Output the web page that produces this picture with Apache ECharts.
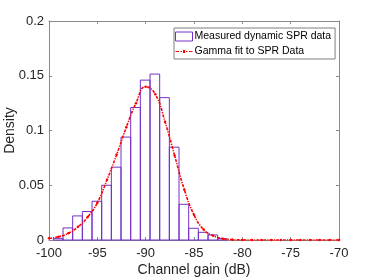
<!DOCTYPE html>
<html>
<head>
<meta charset="utf-8">
<script src="https://cdn.jsdelivr.net/npm/echarts@6/dist/echarts.min.js"></script>
<style>html,body{margin:0;padding:0;background:#fff}#c{width:374px;height:280px}</style>
</head>
<body>
<div id="c"></div>
<script>
// Histogram bins (left edges, width 1 dB) and density heights
var binLeft = [-99.55,-98.55,-97.55,-96.55,-95.55,-94.55,-93.55,-92.55,-91.55,-90.55,-89.55,-88.55,-87.55,-86.55,-85.55,-84.55,-83.55,-82.55];
var binWidth = 1;
var binDensity = [0.0015,0.011,0.022,0.026,0.0354,0.050,0.0665,0.094,0.121,0.146,0.1515,0.130,0.0848,0.0326,0.0107,0.007,0.0046,0.0012];
// Gamma fit curve
var fitX = [-100,-99,-98,-97,-96,-95,-94,-93,-92,-91,-90,-89,-88,-87,-86,-85,-84,-83,-82,-81,-80,-79,-78,-77,-76,-75,-74,-73,-72,-71,-70];
var fitY = [0.0015,0.003,0.0062,0.012,0.021,0.034,0.055,0.078,0.103,0.125,0.140,0.133,0.108,0.077,0.046,0.023,0.0095,0.0038,0.0012,0.0003,0.0001,0,0,0,0,0,0,0,0,0,0];
var xTicks = ['-100','-95','-90','-85','-80','-75','-70'];

var bars = binLeft.map(function(l,i){return [l, l+binWidth, binDensity[i]];});
var fit = fitX.map(function(x,i){return [x, fitY[i]];});
var purple = '#7431c7';
var txt = '#262626';
var axisGray = '#8a8a8a';
var font = 'Liberation Sans, Arial, Helvetica, sans-serif';

var chart = echarts.init(document.getElementById('c'), null, {renderer:'canvas'});
chart.setOption({
  animation:false,
  backgroundColor:'#fff',
  grid:{left:49,right:35,top:21,bottom:40,show:false,containLabel:false,outerBoundsMode:'none'},
  legend:{
    left:174, top:28, orient:'vertical', itemGap:4, itemWidth:17, itemHeight:9,
    padding:[3,4,2,1],
    borderColor:'#7f7f7f', borderWidth:1, backgroundColor:'#fff',
    textStyle:{fontSize:10.5, color:'#000', fontFamily:font, padding:[0,0,0,-3]},
    data:[
      {name:'Measured dynamic SPR data', icon:'rect', itemStyle:{color:'#fff', borderColor:purple, borderWidth:1}},
      {name:'Gamma fit to SPR Data', icon:'path://M0,4.3h3.5v1.2h-3.5z M5,4.3h1.5v1.2h-1.5z M7.5,3.5h2.2v2.8h-2.2z M10.5,4.3h1.5v1.2h-1.5z M13.5,4.3h3.5v1.2h-3.5z', itemStyle:{color:'#ff0000'}}
    ]
  },
  xAxis:[{
    type:'value', min:-100, max:-70, interval:5,
    name:'Channel gain (dB)', nameLocation:'middle', nameGap:23, nameMoveOverlap:false,
    nameTextStyle:{fontSize:14, color:txt, fontFamily:font},
    axisLine:{show:true, onZero:false, lineStyle:{color:axisGray}},
    axisTick:{inside:true, length:3, lineStyle:{color:axisGray}},
    axisLabel:{fontSize:13, color:txt, fontFamily:font, margin:7,
      formatter:function(v){var i=Math.round((v+100)/5);return xTicks[i]!==undefined?xTicks[i]:String(v);}},
    splitLine:{show:false}
  },{
    type:'value', min:-100, max:-70, interval:5, position:'top',
    axisLine:{show:true, onZero:false, lineStyle:{color:axisGray}},
    axisTick:{inside:true, length:3, lineStyle:{color:axisGray}},
    axisLabel:{show:false}, splitLine:{show:false}
  }],
  yAxis:[{
    type:'value', min:0, max:0.2, interval:0.05,
    name:'Density', nameLocation:'middle', nameGap:32, nameMoveOverlap:false,
    nameTextStyle:{fontSize:14, color:txt, fontFamily:font},
    axisLine:{show:true, onZero:false, lineStyle:{color:axisGray}},
    axisTick:{show:true, inside:true, length:3, lineStyle:{color:axisGray}},
    axisLabel:{fontSize:13, color:txt, fontFamily:font, margin:5},
    splitLine:{show:false}
  },{
    type:'value', min:0, max:0.2, interval:0.05, position:'right',
    axisLine:{show:true, onZero:false, lineStyle:{color:axisGray}},
    axisTick:{show:true, inside:true, length:3, lineStyle:{color:axisGray}},
    axisLabel:{show:false}, splitLine:{show:false}
  }],
  series:[{
    name:'Measured dynamic SPR data',
    type:'custom',
    data:bars,
    encode:{x:[0,1], y:2},
    renderItem:function(params, api){
      var p0 = api.coord([api.value(0), 0]);
      var p1 = api.coord([api.value(1), api.value(2)]);
      return {type:'rect', shape:{x:p0[0], y:p1[1], width:p1[0]-p0[0], height:p0[1]-p1[1]},
        style:{fill:'rgba(255,255,255,0)', stroke:purple, lineWidth:1}};
    },
    itemStyle:{color:'#fff', borderColor:purple},
    z:2
  },{
    name:'Gamma fit to SPR Data',
    type:'line',
    data:fit,
    smooth:0.5,
    symbol:'circle', symbolSize:2.5,
    itemStyle:{color:'#ff0000'},
    lineStyle:{color:'#ff0000', width:1.6, type:[3,1.2,1.2,1.2]},
    z:3
  }]
});
</script>
</body>
</html>
